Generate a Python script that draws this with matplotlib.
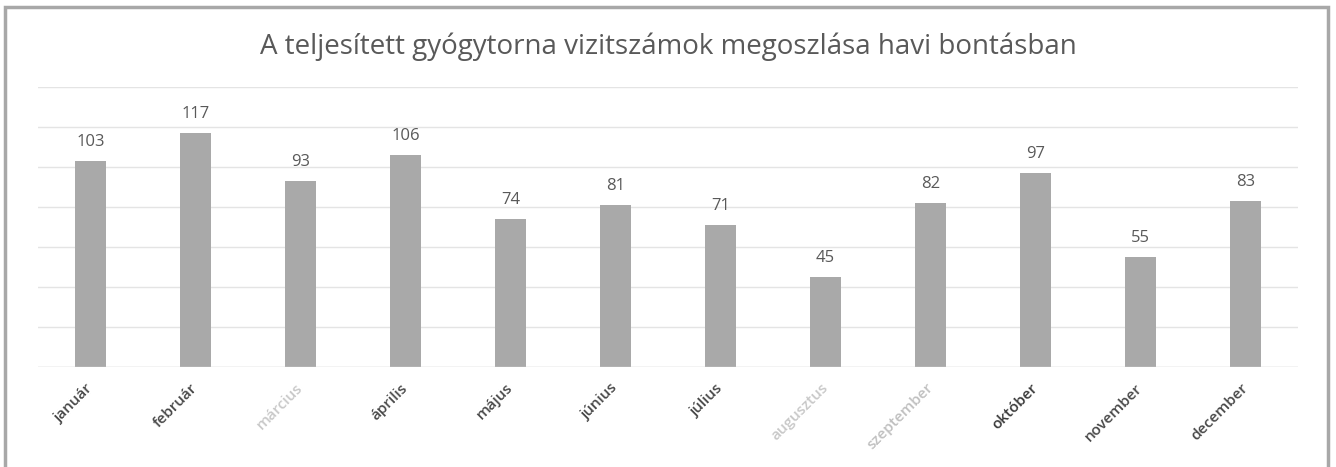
import matplotlib.pyplot as plt
from matplotlib.patches import Rectangle
from matplotlib.transforms import offset_copy

plt.rcParams['font.family'] = ['Open Sans', 'DejaVu Sans']

months = ['január', 'február', 'március', 'április', 'május', 'június',
          'július', 'augusztus', 'szeptember', 'október', 'november', 'december']
visits = [103, 117, 93, 106, 74, 81, 71, 45, 82, 97, 55, 83]
label_colors = ['#484848', '#484848', '#c8c8c8', '#484848', '#484848', '#484848',
                '#484848', '#c8c8c8', '#c0c0c0', '#383838', '#484848', '#484848']

fig = plt.figure(figsize=(13.36, 4.67), dpi=100)
fig.patches.append(Rectangle((5 / 1336, -0.01), 1323 / 1336, 1 - 7 / 467 + 0.01,
                             transform=fig.transFigure, fill=False,
                             edgecolor='#a8a8a8', linewidth=2.5))

ax = fig.add_axes([38 / 1336, 1 - 367 / 467, 1260 / 1336, 280 / 467])
x = range(len(months))
bars = ax.bar(x, visits, width=0.3, color='#a9a9a9', zorder=2)
for b, v in zip(bars, visits):
    ax.annotate(str(v), (b.get_x() + b.get_width() / 2, v), xytext=(0, 8),
                textcoords='offset points', ha='center', va='bottom',
                fontsize=12, color='#595959')

ax.set_xlim(-0.5, len(months) - 0.5)
ax.set_ylim(0, 140)
ax.set_yticks(range(0, 141, 20))
ax.yaxis.grid(True, color='#e4e4e4', linewidth=1)
ax.tick_params(axis='y', left=False, labelleft=False)
ax.tick_params(axis='x', length=0, pad=10)
ax.set_xticks(list(x))
ax.set_xticklabels(months, rotation=45, ha='right', rotation_mode='anchor',
                   fontsize=11, fontweight='semibold')
for lbl, c in zip(ax.get_xticklabels(), label_colors):
    lbl.set_color(c)
    lbl.set_transform(offset_copy(lbl.get_transform(), fig=fig, x=-5, y=0, units='dots'))
for s in ax.spines.values():
    s.set_visible(False)
ax.axhline(0, color='#dcdcdc', linewidth=1)

fig.text(0.5, 1 - 47 / 467, 'A teljesített gyógytorna vizitszámok megoszlása havi bontásban',
         ha='center', va='center', fontsize=20, color='#595959')

fig.savefig('out.png', dpi=100)
